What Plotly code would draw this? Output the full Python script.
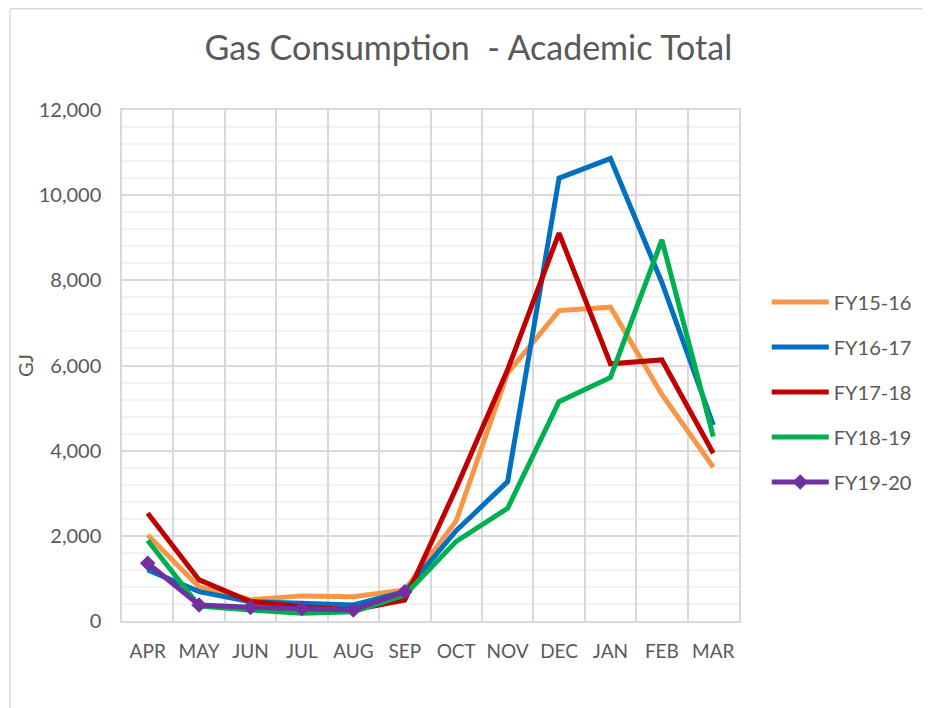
import plotly.graph_objects as go

months = ["APR", "MAY", "JUN", "JUL", "AUG", "SEP", "OCT", "NOV", "DEC", "JAN", "FEB", "MAR"]
fy15_16 = [2020, 800, 500, 590, 570, 730, 2350, 5820, 7290, 7370, 5320, 3610]
fy16_17 = [1200, 690, 454, 415, 376, 688, 2120, 3272, 10400, 10860, 7950, 4600]
fy17_18 = [2530, 965, 454, 337, 258, 493, 3120, 5900, 9110, 6040, 6130, 3940]
fy18_19 = [1890, 352, 258, 180, 219, 611, 1870, 2646, 5150, 5720, 8950, 4330]
fy19_20 = [1355, 376, 321, 297, 258, 688]

series = [
    ("FY15-16", fy15_16, "#F79646"),
    ("FY16-17", fy16_17, "#0070C0"),
    ("FY17-18", fy17_18, "#C00000"),
    ("FY18-19", fy18_19, "#00B050"),
    ("FY19-20", fy19_20, "#7030A0"),
]

FONT = "Lato"
TXT = "#595959"

fig = go.Figure()
for name, vals, col in series:
    is_last = name == "FY19-20"
    fig.add_trace(go.Scatter(
        x=months[:len(vals)], y=vals, name=name,
        mode="lines+markers" if is_last else "lines",
        line=dict(color=col, width=5),
        marker=dict(symbol="diamond", size=12, color=col) if is_last else None,
        legendgroup=name,
    ))

frame = dict(color="#D9D9D9", width=1.5)
fig.update_layout(
    width=930, height=708,
    margin=dict(l=114, r=199, t=102, b=95, autoexpand=False),
    paper_bgcolor="white", plot_bgcolor="white",
    font=dict(family=FONT, color=TXT, size=20),
    title=dict(text="Gas Consumption  - Academic Total", x=0.495, xanchor="center",
               y=0.943, yanchor="middle", font=dict(family=FONT, size=34, color=TXT)),
    showlegend=True,
    legend=dict(x=1.045, xanchor="left", y=0.448, yanchor="middle",
                font=dict(family=FONT, size=20, color=TXT),
                tracegroupgap=16, itemwidth=57, bgcolor="rgba(0,0,0,0)"),
    shapes=[
        dict(type="line", xref="paper", yref="paper", x0=-0.1815, x1=-0.1815,
             y0=-0.5, y1=1.198, line=frame, layer="below"),
        dict(type="line", xref="paper", yref="paper", x0=-0.1815, x1=1.6,
             y0=1.198, y1=1.198, line=frame, layer="below"),
    ],
)

fig.update_xaxes(
    type="category", categoryorder="array", categoryarray=months,
    range=[-0.5, 11.5], tickson="boundaries", ticks="", tickangle=0,
    showgrid=True, gridcolor="#D9D9D9", gridwidth=1.5,
    showline=True, linecolor="#D9D9D9", linewidth=1.5, mirror=True,
    tickfont=dict(family=FONT, size=19, color=TXT), ticklabelstandoff=12,
    automargin=False,
)
fig.update_yaxes(
    range=[0, 12000], dtick=2000, tickformat=",",
    showgrid=True, gridcolor="#D9D9D9", gridwidth=1.5,
    minor=dict(dtick=400, showgrid=True, gridcolor="#F2F2F2", gridwidth=1.5),
    showline=True, linecolor="#D9D9D9", linewidth=1.5, mirror=True,
    zeroline=False, ticks="", automargin=False,
    tickfont=dict(family=FONT, size=20, color=TXT), ticklabelstandoff=15,
    title=dict(text="GJ", font=dict(family=FONT, size=20, color=TXT), standoff=0),
)

fig.write_html("out.html")
